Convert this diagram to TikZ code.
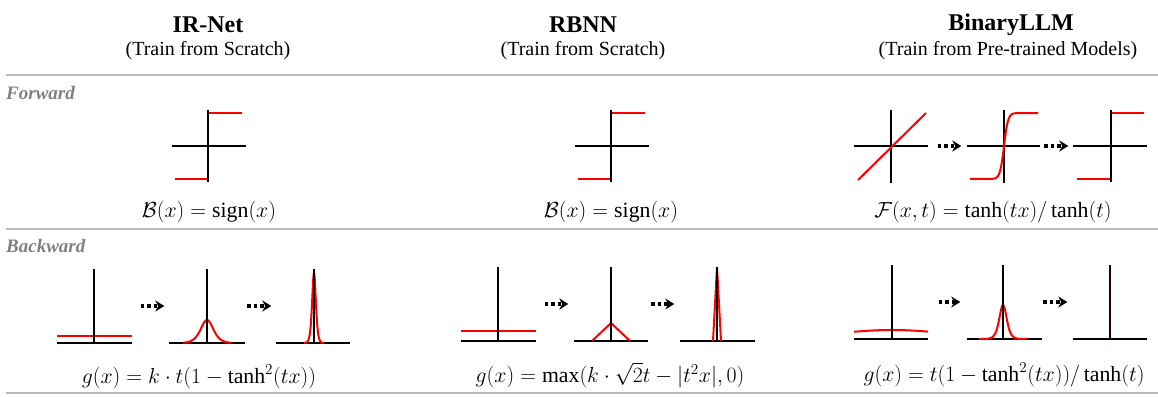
\documentclass[tikz,border=0pt]{standalone}
\usepackage{fontspec}
\setmainfont{Liberation Serif}
\usetikzlibrary{arrows.meta,positioning,calc}

\begin{document}
\begin{tikzpicture}[x=1pt,y=-1pt,
    title/.style={font=\fontsize{24}{28}\selectfont\bfseries,inner sep=0pt},
    subtitle/.style={font=\fontsize{20}{24}\selectfont,inner sep=0pt},
    rowlabel/.style={font=\fontsize{19}{23}\selectfont\bfseries\itshape,text=black!50,inner sep=0pt,anchor=west},
    formula/.style={font=\fontsize{20.74}{25}\selectfont,inner sep=0pt,scale=1.05},
    graph/.style={minimum width=75pt,minimum height=74pt,inner sep=0pt},
    sep/.style={black!28,line width=1.8pt},
    axis/.style={black,line width=1.4pt},
    curve/.style={red,line width=2pt},
    dotarrow/.style={line width=3.5pt,dash pattern=on 3.5pt off 3pt,-{Stealth[length=9pt,width=11pt]},shorten <=9pt,shorten >=5pt},
    declare function={sq(\u)=4*exp(-min(2*abs(\u),9))/(1+exp(-min(2*abs(\u),9)))^2;
                      th(\u)=sign(\u)*(1-exp(-min(2*abs(\u),9)))/(1+exp(-min(2*abs(\u),9)));}]
  \useasboundingbox (0,0) rectangle (1158,396);

  % column heads
  \node[title] (irnet) at (208,25) {IR-Net};
  \node[subtitle] (irsub) at (208,51) {(Train from Scratch)};
  \node[title] (rbnn) at (583,25) {RBNN};
  \node[subtitle] (rbsub) at (583,51) {(Train from Scratch)};
  \node[title] (bllm) at (1011,25) {BinaryLLM};
  \node[subtitle] (blsub) at (1008,51) {(Train from Pre-trained Models)};

  \draw[sep] (6,75) -- (1158,75);
  \draw[sep] (6,229) -- (1158,229);
  \draw[sep] (6,393) -- (1158,393);

  \node[rowlabel] (fwd) at (6,93) {Forward};
  \node[rowlabel] (bwd) at (6,246) {Backward};

  % forward graphs
  \node[graph] (irf) at (208,146) {};
  \node[graph] (rbf) at (611,146) {};
  \node[graph] (blf1) at (891,146) {};
  \node[graph] (blf2) at (1004,146) {};
  \node[graph] (blf3) at (1111,146) {};

  \begin{scope}[shift={(irf.center)}]
    \draw[curve] (-33,33) -- (0,33);
    \draw[curve] (0,-33) -- (34,-33);
    \draw[axis] (-36,0) -- (38,0);
    \draw[axis] (0,-36) -- (0,36);
  \end{scope}
  \begin{scope}[shift={(rbf.center)}]
    \draw[curve] (-33,33) -- (0,33);
    \draw[curve] (0,-33) -- (34,-33);
    \draw[axis] (-36,0) -- (38,0);
    \draw[axis] (0,-36) -- (0,36);
  \end{scope}
  \begin{scope}[shift={(blf1.center)}]
    \draw[axis] (-37,0) -- (37,0);
    \draw[axis] (0,-36) -- (0,37);
    \draw[curve] (-33,34) -- (35,-33);
  \end{scope}
  \begin{scope}[shift={(blf2.center)}]
    \draw[axis] (-37,0) -- (36,0);
    \draw[axis] (0,-36) -- (0,37);
    \draw[curve] plot[domain=-34:34,samples=91,smooth] (\x,{-33*th(\x/4)});
  \end{scope}
  \begin{scope}[shift={(blf3.center)}]
    \draw[curve] (-34,33) -- (0,33);
    \draw[curve] (0,-33) -- (33,-33);
    \draw[axis] (-38,0) -- (36,0);
    \draw[axis] (0,-36) -- (0,36);
  \end{scope}

  \draw[dotarrow] (blf1) -- (blf2);
  \draw[dotarrow,shorten <=2.5pt] (blf2) -- (blf3);

  \node[formula] (irfx) at (209,212) {$\mathcal{B}(x)=\mathrm{sign}(x)$};
  \node[formula] (rbfx) at (611,212) {$\mathcal{B}(x)=\mathrm{sign}(x)$};
  \node[formula] (blfx) at (993,212) {$\mathcal{F}(x,t)=\tanh(tx)/\tanh(t)$};

  % backward graphs
  \node[graph] (irb1) at (94,306) {};
  \node[graph] (irb2) at (207,306) {};
  \node[graph] (irb3) at (314,306) {};
  \node[graph] (rbb1) at (498,304) {};
  \node[graph] (rbb2) at (611,304) {};
  \node[graph] (rbb3) at (717,304) {};
  \node[graph] (blb1) at (892,302) {};
  \node[graph] (blb2) at (1003,302) {};
  \node[graph] (blb3) at (1110,302) {};

  \begin{scope}[shift={(irb1.center)}]
    \draw[axis] (-37,37) -- (38,37);
    \draw[curve] (-37,30) -- (38,30);
    \draw[axis] (0,-37) -- (0,37);
  \end{scope}
  \begin{scope}[shift={(irb2.center)}]
    \draw[axis] (-38,37) -- (38,37);
    \draw[curve] plot[domain=-24:24,samples=81,smooth] (\x,{37-23*sq(\x/8.5)});
    \draw[axis] (0,-37) -- (0,37);
  \end{scope}
  \begin{scope}[shift={(irb3.center)}]
    \draw[axis] (-38,37) -- (36,37);
    \draw[curve] plot[domain=-10:10,samples=81,smooth] (\x,{37-70*sq(\x/2.5)});
    \draw[axis] (0,-37) -- (0,37);
  \end{scope}

  \begin{scope}[shift={(rbb1.center)}]
    \draw[axis] (-37,37) -- (38,37);
    \draw[curve] (-37,27) -- (38,27);
    \draw[axis] (0,-37) -- (0,37);
  \end{scope}
  \begin{scope}[shift={(rbb2.center)}]
    \draw[axis] (-37,37) -- (37,37);
    \draw[curve] (-19,37) -- (0,19) -- (19,37);
    \draw[axis] (0,-37) -- (0,37);
  \end{scope}
  \begin{scope}[shift={(rbb3.center)}]
    \draw[axis] (-37,37) -- (38,37);
    \draw[curve] (-4,37) -- (0,-37) -- (4,37);
    \draw[axis] (0,-37) -- (0,37);
  \end{scope}

  \begin{scope}[shift={(blb1.center)}]
    \draw[axis] (-38,37) -- (36,37);
    \draw[curve] plot[domain=-38:36,samples=41,smooth] (\x,{37-9*sq(\x/80)});
    \draw[axis] (0,-37) -- (0,37);
  \end{scope}
  \begin{scope}[shift={(blb2.center)}]
    \draw[axis] (-36,37) -- (39,37);
    \draw[curve] plot[domain=-24:24,samples=81,smooth] (\x,{37-34*sq(\x/5)});
    \draw[axis] (0,-37) -- (0,37);
  \end{scope}
  \begin{scope}[shift={(blb3.center)}]
    \draw[axis] (-37,37) -- (37,37);
    \draw[red,line width=2.6pt] (0,37) -- (0,-37);
    \draw[black!85!red,line width=1.2pt] (0,-37) -- (0,37);
  \end{scope}

  \draw[dotarrow] (irb1) -- (irb2);
  \draw[dotarrow,shorten <=2.5pt] (irb2) -- (irb3);
  \draw[dotarrow] (rbb1) -- (rbb2);
  \draw[dotarrow,shorten <=2.5pt] (rbb2) -- (rbb3);
  \draw[dotarrow] (blb1) -- (blb2);
  \draw[dotarrow,shorten <=2.5pt] (blb2) -- (blb3);

  \node[formula] (irbx) at (199,377) {$g(x)=k\cdot t(1-\tanh^2(tx))$};
  \node[formula] (rbbx) at (610,375) {$g(x)=\max(k\cdot\sqrt{2}t-|t^2x|,0)$};
  \node[formula] (blbx) at (1004,375) {$g(x)=t(1-\tanh^2(tx))/\tanh(t)$};
\end{tikzpicture}
\end{document}
